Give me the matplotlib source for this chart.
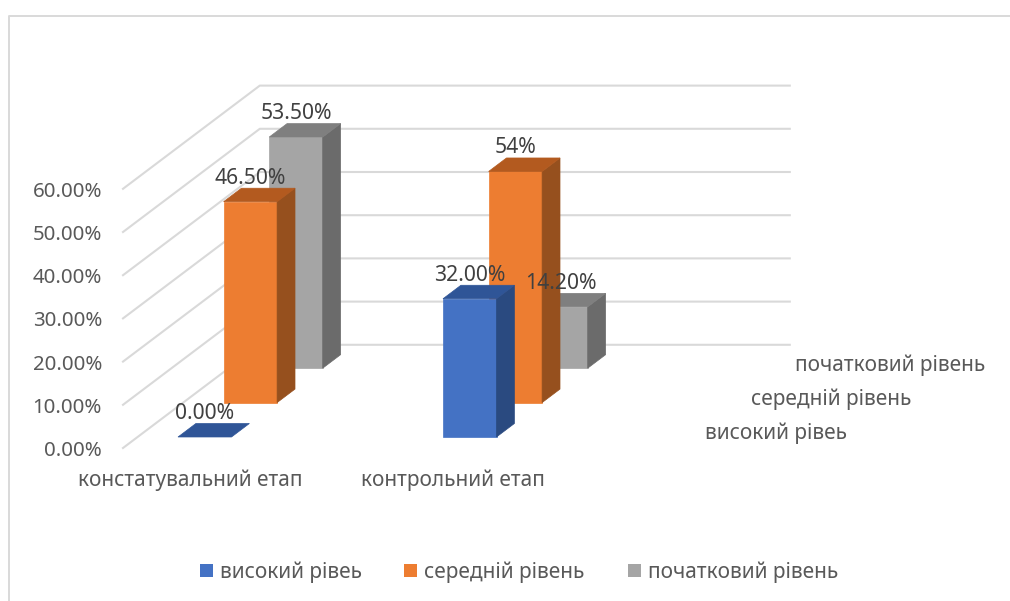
import matplotlib
matplotlib.use("Agg")
import matplotlib.pyplot as plt
from matplotlib.patches import Polygon, Rectangle

plt.rcParams['font.family'] = ['Noto Sans', 'DejaVu Sans']

categories = ['констатувальний етап', 'контрольний етап']
series_names = ['високий рівеь', 'середній рівень', 'початковий рівень']
high_level = [0.0, 32.0]
mid_level = [46.5, 53.5]
start_level = [53.5, 14.2]
high_labels = ['0.00%', '32.00%']
mid_labels = ['46.50%', '54%']
start_labels = ['53.50%', '14.20%']
y_ticks = [0, 10, 20, 30, 40, 50, 60]

W, H = 1010, 601
# pixels per unit of the oblique chart
PX_CAT = 265.0
PX_PCT = 4.32
ORIGIN_X, ORIGIN_Y = 123.0, 448.0
# depth vector per series row, in pixels
DEPTH_X, DEPTH_Y = 45.6, 34.4
BAR_DX, BAR_DY = 17.5, 13.5
BAR_W = 53.5 / PX_CAT
BAR_OFF = 0.1525
FIRST_ROW = 0.32

GRID = '#D9D9D9'
TEXT = '#595959'
FRONT = ['#4472C4', '#ED7D31', '#A5A5A5']
SIDE = ['#2A4A80', '#96501E', '#6B6B6B']
TOP = ['#2F5597', '#B35A1F', '#7F7F7F']


def project(cat, row, val):
    # category / depth row / percent -> data coords of the flat axes
    return cat + row * DEPTH_X / PX_CAT, val + row * DEPTH_Y / PX_PCT


def draw_bar(ax, cat, row, val, idx, z):
    x0 = cat + BAR_OFF
    x1 = x0 + BAR_W
    r = row + FIRST_ROW
    dr = BAR_DY / DEPTH_Y
    if val > 0:
        ax.add_patch(Polygon([project(x0, r, 0), project(x1, r, 0), project(x1, r, val), project(x0, r, val)],
                             fc=FRONT[idx], ec=FRONT[idx], lw=0.5, zorder=z))
        ax.add_patch(Polygon([project(x1, r, 0), project(x1, r + dr, 0), project(x1, r + dr, val), project(x1, r, val)],
                             fc=SIDE[idx], ec=SIDE[idx], lw=0.5, zorder=z))
    ax.add_patch(Polygon([project(x0, r, val), project(x1, r, val), project(x1, r + dr, val), project(x0, r + dr, val)],
                         fc=TOP[idx], ec=TOP[idx], lw=0.5, zorder=z))


def main():
    fig = plt.figure(figsize=(W / 100, H / 100), dpi=100)
    ax = fig.add_axes([0, 0, 1, 1])
    ax.set_xlim(-ORIGIN_X / PX_CAT, (W - ORIGIN_X) / PX_CAT)
    ax.set_ylim((ORIGIN_Y - H) / PX_PCT, ORIGIN_Y / PX_PCT)
    ax.axis('off')

    def px(x, y):
        return (x / W, 1 - y / H)

    # chart border, only top and left are visible
    fig.add_artist(plt.Line2D([9 / W, 9 / W, 1], [0, 1 - 16 / H, 1 - 16 / H], color=GRID, lw=1.4))

    # gridlines: side wall then back wall
    for t in y_ticks:
        a = project(0, 0, t)
        b = project(0, 3, t)
        c = project(2, 3, t)
        ax.plot([a[0], b[0], c[0]], [a[1], b[1], c[1]], color=GRID, lw=1.5, zorder=1)
        lx, ly = ax.transData.transform(a)
        fig.text(102 / W, (ly - 3) / H, f'{t:.2f}%', ha='right', va='center', fontsize=14.7, color=TEXT)

    series = [high_level, mid_level, start_level]
    labels = [high_labels, mid_labels, start_labels]

    # back row first so the front ones overlap
    for idx in [2, 1, 0]:
        for c in range(len(categories)):
            draw_bar(ax, c, idx, series[idx][c], idx, 5 - idx)

    # data labels sit above the bar top, centred on the front face
    for idx in [2, 1, 0]:
        for c in range(len(categories)):
            r = idx + FIRST_ROW
            pos = project(c + BAR_OFF + BAR_W / 2, r, series[idx][c])
            ax.annotate(labels[idx][c], pos, xytext=(0, 17), textcoords='offset points',
                        ha='center', va='center', fontsize=15.2, color='#404040', zorder=10)

    # category and depth axis labels
    for name, cx in zip(categories, [190.5, 452.5]):
        fig.text(*px(cx, 480.5), name, ha='center', va='center', fontsize=15, color=TEXT)
    for name, cx, cy in zip(series_names, [776, 831.5, 890], [433.5, 399.5, 365.5]):
        fig.text(*px(cx, cy), name, ha='center', va='center', fontsize=15, color=TEXT)

    # legend
    for name, color, sx, tx in zip(series_names, FRONT, [200, 404, 628], [220, 424, 648]):
        fig.add_artist(Rectangle(px(sx, 577), 13 / W, 13 / H, transform=fig.transFigure, fc=color, ec='none'))
        fig.text(*px(tx, 572.5), name, ha='left', va='center', fontsize=15, color=TEXT)

    fig.savefig('out.png', dpi=100)


if __name__ == "__main__":
    main()
